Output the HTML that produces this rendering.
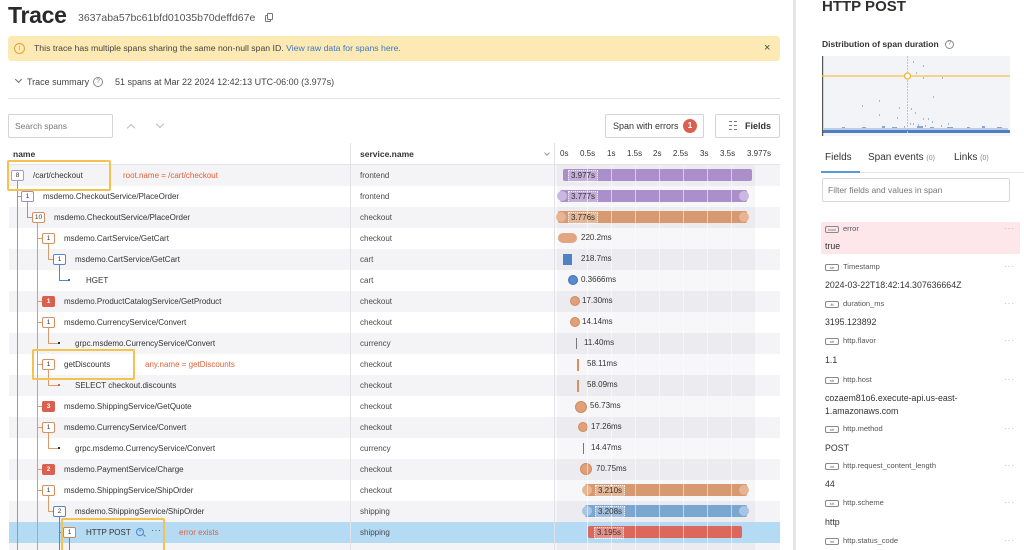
<!DOCTYPE html>
<html><head><meta charset="utf-8"><style>
*{margin:0;padding:0;box-sizing:border-box}
html,body{width:1024px;height:550px;overflow:hidden;background:#fff}
body{position:relative;font-family:"Liberation Sans",Arial,sans-serif;color:#333}
.a{position:absolute;white-space:nowrap}
.t{position:absolute;white-space:nowrap;font-size:8px;line-height:21px;height:21px;color:#333}
.s{position:absolute;white-space:nowrap;font-size:8px;line-height:21px;height:21px;color:#4a4a4a;left:360px}
.b{position:absolute;width:13px;height:11px;border:1px solid #d9905f;border-radius:2px;font-size:6.5px;line-height:9px;text-align:center;background:#fff;color:#333}
.rb{background:#d9604f;border-color:#d9604f;color:#fff;font-weight:bold}
.v{position:absolute;width:1px}
.h{position:absolute;height:1px}
.st{position:absolute;left:9px;width:771px;height:21px;background:#f4f4f6}
.ax{position:absolute;top:148px;font-size:8px;line-height:12px;color:#333}
.bar{position:absolute;height:12px;border-radius:2px}
.lb{position:absolute;font-size:8px;line-height:10px;color:#333;padding:0 2px;background:rgba(255,255,255,.28);border:1px dotted rgba(255,255,255,.8)}
.ml{position:absolute;font-size:8px;line-height:12px;color:#333}
.cir{position:absolute;border-radius:50%}
.fl{position:absolute;left:825px;font-size:7.5px;line-height:10px;color:#555;white-space:nowrap}
.tg{display:inline-block;width:14px;height:7px;border:1px solid #888;border-radius:2px;font-size:4px;line-height:5px;text-align:center;color:#666;vertical-align:middle;margin-right:4px}
.fv{position:absolute;left:825px;font-size:8.8px;line-height:12px;color:#333;white-space:nowrap}
.dd{position:absolute;left:1004px;font-size:8px;color:#aaa;letter-spacing:1px}
.ann{position:absolute;font-size:8px;line-height:21px;color:#e0603a;white-space:nowrap}
.yb{position:absolute;border:2px solid #f3c250;border-radius:2px}
.pl{background:#a68ad0}
.ol{background:#dd9a6a}
.bl{background:#4f88cc}
</style></head><body>

<!-- Header -->
<div class="a" style="left:8px;top:4px;font-size:23px;line-height:23px;font-weight:bold;color:#2a2a2e;letter-spacing:-0.3px">Trace</div>
<div class="a" style="left:78px;top:12px;font-size:10.5px;line-height:13px;color:#555">3637aba57bc61bfd01035b70deffd67e</div>
<div class="a" style="left:265px;top:15px;width:6px;height:7px;border:1px solid #777;border-radius:1px"></div>
<div class="a" style="left:267px;top:13px;width:6px;height:7px;border:1px solid #777;border-radius:1px;background:#fff"></div>

<!-- Banner -->
<div class="a" style="left:8px;top:36px;width:772px;height:25px;background:#fde9b3;border-radius:3px"></div>
<div class="a" style="left:14px;top:43px;width:11px;height:11px;border:1px solid #e3a43a;border-radius:50%;font-size:7px;line-height:9px;text-align:center;color:#e3a43a">i</div>
<div class="a" style="left:34px;top:43px;font-size:8.7px;line-height:11px;color:#444">This trace has multiple spans sharing the same non-null span ID. <span style="color:#3b78c8">View raw data for spans here.</span></div>
<div class="a" style="left:764px;top:41px;font-size:11px;line-height:14px;color:#444">×</div>

<!-- Trace summary -->
<div class="a" style="left:16px;top:77px;width:5px;height:5px;border-right:1px solid #666;border-bottom:1px solid #666;transform:rotate(45deg)"></div>
<div class="a" style="left:27px;top:76px;font-size:9px;line-height:12px;color:#444">Trace summary</div>
<div class="a" style="left:93px;top:77px;width:10px;height:10px;border:1px solid #888;border-radius:50%;font-size:6.5px;line-height:8px;text-align:center;color:#777">?</div>
<div class="a" style="left:115px;top:76px;font-size:9px;line-height:12px;color:#444">51 spans at Mar 22 2024 12:42:13 UTC-06:00 (3.977s)</div>
<div class="a" style="left:8px;top:98px;width:772px;height:1px;background:#e2e2e6"></div>

<!-- Search row -->
<div class="a" style="left:8px;top:114px;width:105px;height:24px;border:1px solid #d4d4d8;border-radius:2px"></div>
<div class="a" style="left:15px;top:120px;font-size:8.5px;line-height:12px;color:#777">Search spans</div>
<div class="a" style="left:128px;top:125px;width:6px;height:6px;border-left:1px solid #bbb;border-top:1px solid #bbb;transform:rotate(45deg)"></div>
<div class="a" style="left:157px;top:121px;width:6px;height:6px;border-right:1px solid #bbb;border-bottom:1px solid #bbb;transform:rotate(45deg)"></div>

<div class="a" style="left:605px;top:114px;width:99px;height:24px;border:1px solid #d4d4d8;border-radius:2px"></div>
<div class="a" style="left:613px;top:120px;font-size:9px;line-height:12px;color:#333">Span with errors</div>
<div class="a" style="left:683px;top:119px;width:14px;height:14px;border-radius:50%;background:#d9604f;color:#fff;font-size:8px;line-height:14px;text-align:center;font-weight:bold">1</div>
<div class="a" style="left:715px;top:114px;width:65px;height:24px;border:1px solid #d4d4d8;border-radius:2px"></div>
<div class="a" style="left:729px;top:121px;width:3px;height:9px;border-top:1px solid #777;border-bottom:1px solid #777"></div>
<div class="a" style="left:729px;top:125px;width:3px;height:1px;background:#777"></div>
<div class="a" style="left:734px;top:121px;width:3px;height:9px;border-top:1px solid #777;border-bottom:1px solid #777"></div>
<div class="a" style="left:734px;top:125px;width:3px;height:1px;background:#777"></div>
<div class="a" style="left:745px;top:120px;font-size:9px;line-height:12px;color:#333;font-weight:bold">Fields</div>

<!-- Table header -->
<div class="a" style="left:13px;top:148px;font-size:8.5px;line-height:12px;font-weight:bold;color:#333">name</div>
<div class="a" style="left:545px;top:151px;width:4px;height:4px;border-right:1px solid #999;border-bottom:1px solid #999;transform:rotate(45deg)"></div>
<div class="a" style="left:360px;top:148px;font-size:8.5px;line-height:12px;font-weight:bold;color:#333">service.name</div>
<div class="ax" style="left:560px">0s</div>
<div class="ax" style="left:580px">0.5s</div>
<div class="ax" style="left:607px">1s</div>
<div class="ax" style="left:627px">1.5s</div>
<div class="ax" style="left:653px">2s</div>
<div class="ax" style="left:673px">2.5s</div>
<div class="ax" style="left:700px">3s</div>
<div class="ax" style="left:720px">3.5s</div>
<div class="ax" style="left:747px">3.977s</div>
<div class="a" style="left:9px;top:164px;width:771px;height:1px;background:#e4e4e8"></div>

<!-- Stripes -->
<div class="st" style="top:165px"></div>
<div class="st" style="top:207px"></div>
<div class="st" style="top:249px"></div>
<div class="st" style="top:291px"></div>
<div class="st" style="top:333px"></div>
<div class="st" style="top:375px"></div>
<div class="st" style="top:417px"></div>
<div class="st" style="top:459px"></div>
<div class="st" style="top:501px"></div>
<div class="st" style="top:522px;background:#b5daf4"></div>
<div class="st" style="top:543px"></div>

<!-- column separators and time band -->
<div class="a" style="left:350px;top:143px;width:1px;height:407px;background:#e2e2e6"></div>
<div class="a" style="left:554px;top:143px;width:1px;height:407px;background:#e2e2e6"></div>
<div class="a" style="left:557px;top:165px;width:198px;height:357px;background:rgba(60,60,100,0.04)"></div>
<div class="a" style="left:557px;top:543px;width:198px;height:7px;background:rgba(60,60,100,0.04)"></div>

<!-- Tree lines -->
<div class="v pl" style="left:17px;top:181px;height:369px"></div>
<div class="h pl" style="left:17px;top:196px;width:4px"></div>
<div class="v pl" style="left:27px;top:202px;height:16px"></div>
<div class="h pl" style="left:27px;top:217px;width:5px"></div>
<div class="v ol" style="left:37px;top:223px;height:327px"></div>
<div class="h ol" style="left:37px;top:238px;width:5px"></div>
<div class="v ol" style="left:48px;top:244px;height:16px"></div>
<div class="h ol" style="left:48px;top:259px;width:5px"></div>
<div class="v bl" style="left:59px;top:265px;height:16px"></div>
<div class="h bl" style="left:59px;top:280px;width:9px"></div>
<div class="a" style="left:68px;top:279px;width:2px;height:2px;background:#3d6fb6"></div>
<div class="h ol" style="left:37px;top:301px;width:5px"></div>
<div class="h ol" style="left:37px;top:322px;width:5px"></div>
<div class="v ol" style="left:48px;top:328px;height:16px"></div>
<div class="h ol" style="left:48px;top:343px;width:10px"></div>
<div class="a" style="left:58px;top:342px;width:2px;height:2px;background:#333"></div>
<div class="h ol" style="left:37px;top:364px;width:5px"></div>
<div class="v ol" style="left:48px;top:370px;height:16px"></div>
<div class="h ol" style="left:48px;top:385px;width:10px"></div>
<div class="a" style="left:58px;top:384px;width:2px;height:2px;background:#d9604f"></div>
<div class="h ol" style="left:37px;top:406px;width:5px"></div>
<div class="h ol" style="left:37px;top:427px;width:5px"></div>
<div class="v ol" style="left:48px;top:433px;height:16px"></div>
<div class="h ol" style="left:48px;top:448px;width:10px"></div>
<div class="a" style="left:58px;top:447px;width:2px;height:2px;background:#333"></div>
<div class="h ol" style="left:37px;top:469px;width:5px"></div>
<div class="h ol" style="left:37px;top:490px;width:5px"></div>
<div class="v ol" style="left:48px;top:496px;height:16px"></div>
<div class="h ol" style="left:48px;top:511px;width:5px"></div>
<div class="v bl" style="left:59px;top:517px;height:33px"></div>
<div class="h bl" style="left:59px;top:532px;width:4px"></div>
<div class="v bl" style="left:69px;top:538px;height:12px"></div>

<!-- Badges -->
<div class="b" style="left:11px;top:170px;border-color:#a99cc8">8</div>
<div class="b" style="left:21px;top:191px;border-color:#a68ad0">1</div>
<div class="b" style="left:32px;top:212px;width:13px">10</div>
<div class="b" style="left:42px;top:233px">1</div>
<div class="b" style="left:53px;top:254px;border-color:#4f88cc">1</div>
<div class="b rb" style="left:42px;top:296px">1</div>
<div class="b" style="left:42px;top:317px">1</div>
<div class="b" style="left:42px;top:359px">1</div>
<div class="b rb" style="left:42px;top:401px">3</div>
<div class="b" style="left:42px;top:422px">1</div>
<div class="b rb" style="left:42px;top:464px">2</div>
<div class="b" style="left:42px;top:485px">1</div>
<div class="b" style="left:53px;top:506px;border-color:#4f88cc">2</div>
<div class="b" style="left:63px;top:527px;border-color:#c98a5a">1</div>

<!-- Names -->
<div class="t" style="left:33px;top:165px">/cart/checkout</div>
<div class="t" style="left:43px;top:186px">msdemo.CheckoutService/PlaceOrder</div>
<div class="t" style="left:54px;top:207px">msdemo.CheckoutService/PlaceOrder</div>
<div class="t" style="left:64px;top:228px">msdemo.CartService/GetCart</div>
<div class="t" style="left:75px;top:249px">msdemo.CartService/GetCart</div>
<div class="t" style="left:86px;top:270px">HGET</div>
<div class="t" style="left:64px;top:291px">msdemo.ProductCatalogService/GetProduct</div>
<div class="t" style="left:64px;top:312px">msdemo.CurrencyService/Convert</div>
<div class="t" style="left:75px;top:333px">grpc.msdemo.CurrencyService/Convert</div>
<div class="t" style="left:64px;top:354px">getDiscounts</div>
<div class="t" style="left:75px;top:375px">SELECT checkout.discounts</div>
<div class="t" style="left:64px;top:396px">msdemo.ShippingService/GetQuote</div>
<div class="t" style="left:64px;top:417px">msdemo.CurrencyService/Convert</div>
<div class="t" style="left:75px;top:438px">grpc.msdemo.CurrencyService/Convert</div>
<div class="t" style="left:64px;top:459px">msdemo.PaymentService/Charge</div>
<div class="t" style="left:64px;top:480px">msdemo.ShippingService/ShipOrder</div>
<div class="t" style="left:75px;top:501px">msdemo.ShippingService/ShipOrder</div>
<div class="t" style="left:86px;top:522px">HTTP POST</div>
<!-- HTTP POST icons -->
<div class="a" style="left:136px;top:528px;width:8px;height:8px;border:1px solid #4a85c5;border-radius:50%;font-size:6px;line-height:6px;text-align:center;color:#4a85c5">+</div>
<div class="a" style="left:143px;top:535px;width:3px;height:1px;background:#4a85c5;transform:rotate(45deg)"></div>
<div class="a" style="left:151px;top:524px;font-size:9px;line-height:12px;color:#555;letter-spacing:0.5px">···</div>

<!-- Annotations -->
<div class="ann" style="left:123px;top:165px">root.name = /cart/checkout</div>
<div class="ann" style="left:145px;top:354px">any.name = getDiscounts</div>
<div class="ann" style="left:179px;top:522px">error exists</div>
<div class="yb" style="left:7px;top:160px;width:104px;height:31px"></div>
<div class="yb" style="left:32px;top:349px;width:103px;height:31px"></div>
<div class="yb" style="left:61px;top:518px;width:104px;height:34px"></div>

<!-- Services -->
<div class="s" style="top:165px">frontend</div>
<div class="s" style="top:186px">frontend</div>
<div class="s" style="top:207px">checkout</div>
<div class="s" style="top:228px">checkout</div>
<div class="s" style="top:249px">cart</div>
<div class="s" style="top:270px">cart</div>
<div class="s" style="top:291px">checkout</div>
<div class="s" style="top:312px">checkout</div>
<div class="s" style="top:333px">currency</div>
<div class="s" style="top:354px">checkout</div>
<div class="s" style="top:375px">checkout</div>
<div class="s" style="top:396px">checkout</div>
<div class="s" style="top:417px">checkout</div>
<div class="s" style="top:438px">currency</div>
<div class="s" style="top:459px">checkout</div>
<div class="s" style="top:480px">checkout</div>
<div class="s" style="top:501px">shipping</div>
<div class="s" style="top:522px">shipping</div>

<!-- Bars -->
<div class="bar" style="left:563px;top:169px;width:189px;background:#ab8fca"></div>
<div class="bar" style="left:560px;top:190px;width:187px;background:#ab8fca"></div>
<div class="cir" style="left:557px;top:191px;width:10px;height:10px;background:#cbb8e2"></div>
<div class="cir" style="left:739px;top:191px;width:10px;height:10px;background:#cbb8e2"></div>
<div class="bar" style="left:558px;top:211px;width:189px;background:#d79a70"></div>
<div class="cir" style="left:556px;top:212px;width:10px;height:10px;background:#e7b593"></div>
<div class="cir" style="left:739px;top:212px;width:10px;height:10px;background:#e7b593"></div>
<div class="bar" style="left:558px;top:233px;width:19px;height:10px;border-radius:5px;background:#e2a682"></div>
<div class="a" style="left:563px;top:254px;width:9px;height:11px;background:#4d83c3"></div>
<div class="cir" style="left:568px;top:275px;width:10px;height:10px;background:#5a8ad0;border:1px solid #3f70b8"></div>
<div class="cir" style="left:570px;top:296px;width:10px;height:10px;background:#e2a07a;border:1px solid #cf8a5e"></div>
<div class="cir" style="left:570px;top:317px;width:10px;height:10px;background:#e2a07a;border:1px solid #cf8a5e"></div>
<div class="a" style="left:576px;top:338px;width:1px;height:11px;background:#777"></div>
<div class="a" style="left:577px;top:359px;width:2px;height:12px;background:#d9905f"></div>
<div class="a" style="left:577px;top:380px;width:2px;height:12px;background:#d9905f"></div>
<div class="cir" style="left:575px;top:401px;width:12px;height:12px;background:#e2a07a;border:1px solid #cf8a5e"></div>
<div class="cir" style="left:578px;top:422px;width:10px;height:10px;background:#e2a07a;border:1px solid #cf8a5e"></div>
<div class="a" style="left:583px;top:443px;width:1px;height:11px;background:#777"></div>
<div class="cir" style="left:580px;top:463px;width:12px;height:12px;background:#e2a07a;border:1px solid #cf8a5e"></div>
<div class="bar" style="left:585px;top:484px;width:162px;background:#d79a70"></div>
<div class="cir" style="left:582px;top:485px;width:10px;height:10px;background:#e7b593"></div>
<div class="cir" style="left:739px;top:485px;width:10px;height:10px;background:#e7b593"></div>
<div class="bar" style="left:585px;top:505px;width:162px;background:#7aa6d2"></div>
<div class="cir" style="left:582px;top:506px;width:10px;height:10px;background:#a8c5e6"></div>
<div class="cir" style="left:739px;top:506px;width:10px;height:10px;background:#a8c5e6"></div>
<div class="bar" style="left:588px;top:526px;width:154px;background:#dc675c"></div>

<!-- gridlines -->
<div class="a" style="left:587px;top:165px;width:1px;height:385px;background:rgba(255,255,255,.55)"></div>
<div class="a" style="left:611px;top:165px;width:1px;height:385px;background:rgba(255,255,255,.55)"></div>
<div class="a" style="left:635px;top:165px;width:1px;height:385px;background:rgba(255,255,255,.55)"></div>
<div class="a" style="left:659px;top:165px;width:1px;height:385px;background:rgba(255,255,255,.55)"></div>
<div class="a" style="left:683px;top:165px;width:1px;height:385px;background:rgba(255,255,255,.55)"></div>
<div class="a" style="left:707px;top:165px;width:1px;height:385px;background:rgba(255,255,255,.55)"></div>
<div class="a" style="left:731px;top:165px;width:1px;height:385px;background:rgba(255,255,255,.55)"></div>

<!-- bar labels -->
<div class="lb" style="left:568px;top:170px">3.977s</div>
<div class="lb" style="left:568px;top:191px">3.777s</div>
<div class="lb" style="left:568px;top:212px">3.776s</div>
<div class="ml" style="left:581px;top:232px">220.2ms</div>
<div class="ml" style="left:581px;top:253px">218.7ms</div>
<div class="ml" style="left:581px;top:274px">0.3666ms</div>
<div class="ml" style="left:582px;top:295px">17.30ms</div>
<div class="ml" style="left:582px;top:316px">14.14ms</div>
<div class="ml" style="left:584px;top:337px">11.40ms</div>
<div class="ml" style="left:587px;top:358px">58.11ms</div>
<div class="ml" style="left:587px;top:379px">58.09ms</div>
<div class="ml" style="left:590px;top:400px">56.73ms</div>
<div class="ml" style="left:591px;top:421px">17.26ms</div>
<div class="ml" style="left:591px;top:442px">14.47ms</div>
<div class="ml" style="left:596px;top:463px">70.75ms</div>
<div class="lb" style="left:595px;top:485px">3.210s</div>
<div class="lb" style="left:595px;top:506px">3.208s</div>
<div class="lb" style="left:594px;top:527px">3.195s</div>

<!-- Panel separator -->
<div class="a" style="left:793px;top:0;width:3px;height:550px;background:#e6e6e8"></div>

<!-- Right panel -->
<div class="a" style="left:822px;top:-2px;font-size:15px;line-height:18px;font-weight:bold;color:#2f2f33">HTTP POST</div>
<div class="a" style="left:822px;top:39px;font-size:8.5px;line-height:11px;font-weight:bold;color:#333">Distribution of span duration</div>
<div class="a" style="left:945px;top:40px;width:9px;height:9px;border:1px solid #888;border-radius:50%;font-size:6px;line-height:7px;text-align:center;color:#777">?</div>

<svg class="a" style="left:822px;top:56px" width="188" height="80" viewBox="0 0 188 80">
<rect x="0" y="0" width="188" height="80" fill="#f3f4f8"/>
<g fill="#a9b8d2">
<rect x="91" y="5" width="1" height="2"/><rect x="101" y="9" width="1" height="2"/><rect x="94" y="16" width="1" height="2"/><rect x="101" y="21" width="1" height="2"/><rect x="120" y="21" width="1" height="2"/>
<rect x="111" y="40" width="1" height="2"/><rect x="57" y="44" width="1" height="2"/><rect x="40" y="49" width="1" height="2"/><rect x="77" y="51" width="1" height="2"/><rect x="89" y="52" width="1" height="2"/><rect x="93" y="56" width="1" height="2"/>
<rect x="57" y="58" width="1" height="2"/><rect x="75" y="61" width="1" height="2"/><rect x="101" y="62" width="1" height="2"/><rect x="106" y="62" width="1" height="2"/><rect x="110" y="65" width="1" height="2"/><rect x="88" y="67" width="1" height="2"/><rect x="91" y="67" width="1" height="2"/><rect x="126" y="67" width="1" height="2"/>
<rect x="96" y="68" width="1" height="2"/><rect x="103" y="69" width="1" height="2"/><rect x="119" y="69" width="1" height="2"/><rect x="82" y="70" width="1" height="2"/>
</g>
<g fill="#8aa6d0">
<rect x="2" y="72" width="184" height="2" opacity="0.5"/>
<rect x="20" y="71" width="3" height="1"/><rect x="40" y="71" width="4" height="1"/><rect x="60" y="70" width="3" height="2"/><rect x="70" y="71" width="5" height="1"/><rect x="95" y="70" width="6" height="2"/><rect x="108" y="71" width="4" height="1"/><rect x="125" y="71" width="6" height="1"/><rect x="145" y="71" width="3" height="1"/><rect x="160" y="70" width="3" height="2"/><rect x="175" y="71" width="5" height="1"/>
</g>
<rect x="1" y="74" width="187" height="3" fill="#4f7fc3"/>
<rect x="0" y="0" width="1.2" height="80" fill="#555"/>
<line x1="0" y1="20" x2="188" y2="20" stroke="#f3c04a" stroke-width="1.2"/>
<line x1="85.5" y1="0" x2="85.5" y2="78" stroke="#f3c04a" stroke-width="1" stroke-dasharray="2,1"/>
<circle cx="85.5" cy="20" r="3" fill="#fff" stroke="#f0b93a" stroke-width="1.3"/>
</svg>

<!-- Tabs -->
<div class="a" style="left:825px;top:152px;font-size:10px;line-height:12px;color:#333">Fields</div>
<div class="a" style="left:868px;top:152px;font-size:10px;line-height:12px;color:#333">Span events <span style="font-size:7px;color:#888">(0)</span></div>
<div class="a" style="left:954px;top:152px;font-size:10px;line-height:12px;color:#333">Links <span style="font-size:7px;color:#888">(0)</span></div>
<div class="a" style="left:821px;top:172px;width:203px;height:1px;background:#e4e4e8"></div>
<div class="a" style="left:821px;top:171px;width:39px;height:2px;background:#5b9bd5"></div>
<div class="a" style="left:822px;top:178px;width:188px;height:24px;border:1px solid #d8d8dc;border-radius:2px"></div>
<div class="a" style="left:828px;top:184px;font-size:8.5px;line-height:12px;color:#777">Filter fields and values in span</div>

<!-- Field list -->
<div class="a" style="left:821px;top:222px;width:199px;height:32px;background:#fde7ea"></div>
<div class="fl" style="top:224px"><span class="tg">bool</span>error</div><div class="dd" style="top:224px">···</div>
<div class="fv" style="top:240px">true</div>
<div class="fl" style="top:262px"><span class="tg">str</span>Timestamp</div><div class="dd" style="top:262px">···</div>
<div class="fv" style="top:279px">2024-03-22T18:42:14.307636664Z</div>
<div class="fl" style="top:299px"><span class="tg">flt</span>duration_ms</div><div class="dd" style="top:299px">···</div>
<div class="fv" style="top:316px">3195.123892</div>
<div class="fl" style="top:336px"><span class="tg">str</span>http.flavor</div><div class="dd" style="top:336px">···</div>
<div class="fv" style="top:354px">1.1</div>
<div class="fl" style="top:375px"><span class="tg">str</span>http.host</div><div class="dd" style="top:375px">···</div>
<div class="fv" style="top:392px">cozaem81o6.execute-api.us-east-</div>
<div class="fv" style="top:405px">1.amazonaws.com</div>
<div class="fl" style="top:424px"><span class="tg">str</span>http.method</div><div class="dd" style="top:424px">···</div>
<div class="fv" style="top:442px">POST</div>
<div class="fl" style="top:461px"><span class="tg">int</span>http.request_content_length</div><div class="dd" style="top:461px">···</div>
<div class="fv" style="top:478px">44</div>
<div class="fl" style="top:498px"><span class="tg">str</span>http.scheme</div><div class="dd" style="top:498px">···</div>
<div class="fv" style="top:516px">http</div>
<div class="fl" style="top:536px"><span class="tg">int</span>http.status_code</div><div class="dd" style="top:536px">···</div>

</body></html>
